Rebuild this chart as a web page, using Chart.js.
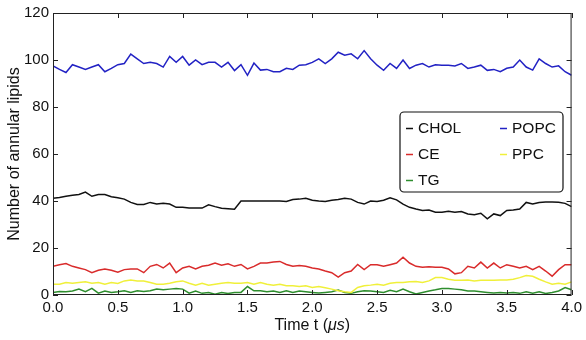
<!DOCTYPE html>
<html>
<head>
<meta charset="utf-8">
<script src="https://cdn.jsdelivr.net/npm/chart.js@4"></script>
<style>
  html, body { margin: 0; padding: 0; background: #fff; }
  #wrap { width: 586px; height: 340px; }
</style>
</head>
<body>
<div id="wrap"><canvas id="lipidChart" width="586" height="340"></canvas></div>
<script>
// time axis, microseconds
const times = [0.00, 0.05, 0.10, 0.15, 0.20, 0.25, 0.30, 0.35, 0.40, 0.45,
  0.50, 0.55, 0.60, 0.65, 0.70, 0.75, 0.80, 0.85, 0.90, 0.95,
  1.00, 1.05, 1.10, 1.15, 1.20, 1.25, 1.30, 1.35, 1.40, 1.45,
  1.50, 1.55, 1.60, 1.65, 1.70, 1.75, 1.80, 1.85, 1.90, 1.95,
  2.00, 2.05, 2.10, 2.15, 2.20, 2.25, 2.30, 2.35, 2.40, 2.45,
  2.50, 2.55, 2.60, 2.65, 2.70, 2.75, 2.80, 2.85, 2.90, 2.95,
  3.00, 3.05, 3.10, 3.15, 3.20, 3.25, 3.30, 3.35, 3.40, 3.45,
  3.50, 3.55, 3.60, 3.65, 3.70, 3.75, 3.80, 3.85, 3.90, 3.95, 4.00];

const popc = [97.5, 96, 94.7, 98, 97, 96, 97, 98, 95, 96.4,
  98, 98.5, 102.5, 100.5, 98.5, 99, 98.5, 97, 101.5, 99,
  101.5, 97.8, 100, 98, 99, 99, 97, 99, 95.5, 98,
  93.5, 98.7, 95.7, 96, 95, 95, 96.5, 96, 97.8, 98,
  99, 100.5, 98.5, 100.5, 103.3, 102, 102.6, 100.5, 104, 100.5,
  97.8, 95.6, 98.5, 96.4, 100, 96.4, 97.8, 98.5, 97, 98,
  97.8, 97.8, 97.5, 98.5, 96.4, 97, 97.8, 95.6, 96, 95,
  96.5, 97, 100, 97, 95.7, 100.5, 98.5, 97, 97.5, 95, 93.5];

const chol = [41.2, 41.5, 42, 42.4, 42.8, 43.8, 42, 42.8, 42.8, 41.8,
  41.4, 40.8, 39.4, 38.5, 38.5, 39.4, 38.7, 39, 38.7, 37.3,
  37.3, 37, 37, 37, 38.4, 37.6, 36.9, 36.7, 36.5, 40,
  40, 40, 40, 40, 40, 40, 39.8, 40.6, 40.8, 41.2,
  40.3, 40, 39.8, 40.3, 40.6, 41.2, 40.8, 39.4, 38.7, 40,
  39.8, 40.3, 41.4, 40.5, 38.7, 37.3, 36.6, 36, 36.2, 35.2,
  35.2, 35.6, 35.2, 35.5, 34.5, 34.2, 34.8, 32.4, 34.5, 33.8,
  36, 36.2, 36.6, 39.4, 38.7, 39.4, 39.6, 39.6, 39.5, 39, 37.6];

const ce = [12.2, 12.9, 13.4, 12.2, 11.5, 10.8, 9.5, 10.5, 11.1, 10.5,
  9.7, 10.8, 11.1, 11.1, 9.5, 12.2, 13, 11.5, 13.6, 9.5,
  11.5, 12.2, 11.1, 12.2, 12.7, 13.6, 12.7, 13.3, 12.2, 13,
  11.1, 12.2, 13.6, 13.6, 14, 14.3, 13, 12.2, 12.5, 12.2,
  11.5, 11.1, 10.2, 9.5, 7.6, 9.5, 10.2, 13, 10.8, 12.9,
  12.9, 12.2, 12.9, 13.6, 16.1, 13.6, 12.2, 11.8, 12, 11.8,
  11.8, 11.1, 9, 9.5, 12.2, 11.5, 14, 11.5, 13.6, 11.5,
  12.9, 12.2, 11.5, 12.2, 10.8, 12.2, 10.2, 8, 10.8, 12.9, 12.9];

const ppc = [4.6, 4.6, 5.3, 5, 5.3, 5.6, 5, 5.3, 4.6, 5.3,
  4.9, 6, 6.4, 6, 6, 5.3, 4.6, 4.6, 5, 5.6,
  6, 5, 4.2, 5, 4.2, 4.6, 5, 5.3, 5, 5,
  5.3, 4.6, 5.3, 4.6, 4.2, 4.6, 3.9, 3.9, 3.6, 3.9,
  3.2, 3.6, 3.1, 2.5, 1.8, 1.4, 1.1, 3.2, 3.9, 4.2,
  4.6, 4.2, 5, 5.3, 5.3, 5.6, 5.7, 5.3, 6, 7.4,
  7.4, 6.7, 6.3, 6.3, 6.4, 6, 6.3, 6.3, 6.3, 6.4,
  6.4, 6.7, 7.4, 8.3, 8, 6.7, 5.6, 4.6, 5, 4.6, 5.6];

const tg = [1.1, 1.5, 1.4, 1.7, 2.5, 1.4, 2.8, 0.8, 1.7, 1.1,
  1.4, 1.8, 1.1, 1.8, 1.5, 1.8, 2.5, 2.2, 2.5, 2.8,
  2.5, 0.8, 1.7, 0.7, 1.1, 0.3, 1.1, 0.6, 1.1, 1.1,
  3.6, 1.8, 1.8, 1.4, 1.7, 1.1, 1.8, 1.1, 1.7, 1.4,
  1.1, 0.8, 1.1, 1.4, 2.1, 1.1, 0.7, 1.4, 1.8, 1.7,
  1.4, 1.1, 2, 1.4, 2.5, 1.4, 0.4, 1.1, 1.7, 2.2,
  2.8, 2.8, 2.5, 2.2, 1.7, 1.7, 1.4, 1.1, 0.8, 1.1,
  0.8, 1.1, 0.7, 1.4, 0.8, 1.4, 0.6, 1.1, 1.7, 3.2, 2.2];

const xTicks = [0, 0.5, 1, 1.5, 2, 2.5, 3, 3.5, 4];
const yTicks = [0, 20, 40, 60, 80, 100, 120];

const FONT = '"Liberation Sans", Arial, sans-serif';

function series(label, values, color) {
  return {
    label: label,
    data: times.map((t, i) => ({ x: t, y: values[i] })),
    borderColor: color,
    backgroundColor: color,
    borderWidth: 1.5,
    pointRadius: 0,
    tension: 0,
    fill: false
  };
}

// frame, inward ticks, x title with italic unit, legend box
const decorPlugin = {
  id: 'decor',
  afterDraw(chart) {
    const ctx = chart.ctx;
    const a = chart.chartArea;
    const xs = chart.scales.x, ys = chart.scales.y;
    ctx.save();
    ctx.strokeStyle = '#222';
    ctx.lineWidth = 1;
    ctx.strokeRect(a.left + 0.5, a.top + 0.5, a.right - a.left - 1, a.bottom - a.top - 1);
    ctx.beginPath();
    xTicks.forEach(v => {
      const px = Math.round(xs.getPixelForValue(v)) + 0.5;
      ctx.moveTo(px, a.bottom); ctx.lineTo(px, a.bottom - 5);
      ctx.moveTo(px, a.top); ctx.lineTo(px, a.top + 5);
    });
    yTicks.forEach(v => {
      const py = Math.round(ys.getPixelForValue(v)) + 0.5;
      ctx.moveTo(a.left, py); ctx.lineTo(a.left + 5, py);
      ctx.moveTo(a.right, py); ctx.lineTo(a.right - 5, py);
    });
    ctx.stroke();

    // x axis title: "Time t (" + italic "μs" + ")"
    ctx.fillStyle = '#111';
    ctx.textBaseline = 'middle';
    const parts = [['Time t (', 'normal'], ['\u03bcs', 'italic'], [')', 'normal']];
    let total = 0;
    parts.forEach(p => { ctx.font = p[1] + ' 16px ' + FONT; total += ctx.measureText(p[0]).width; });
    let x = (a.left + a.right) / 2 - total / 2;
    parts.forEach(p => {
      ctx.font = p[1] + ' 16px ' + FONT;
      ctx.textAlign = 'left';
      ctx.fillText(p[0], x, 326);
      x += ctx.measureText(p[0]).width;
    });

    // legend
    const bx = 400, by = 112, bw = 163, bh = 80, r = 4;
    ctx.beginPath();
    ctx.moveTo(bx + r, by);
    ctx.arcTo(bx + bw, by, bx + bw, by + bh, r);
    ctx.arcTo(bx + bw, by + bh, bx, by + bh, r);
    ctx.arcTo(bx, by + bh, bx, by, r);
    ctx.arcTo(bx, by, bx + bw, by, r);
    ctx.closePath();
    ctx.fillStyle = '#fff';
    ctx.fill();
    ctx.strokeStyle = '#111';
    ctx.lineWidth = 1.2;
    ctx.stroke();
    const slots = [[406, 128], [500, 128], [406, 154], [500, 154], [406, 180]];
    ctx.font = '15.5px ' + FONT;
    chart.data.datasets.forEach((ds, k) => {
      const [sx, sy] = slots[k];
      ctx.strokeStyle = ds.borderColor;
      ctx.lineWidth = 1.5;
      ctx.beginPath();
      ctx.moveTo(sx, sy + 0.5); ctx.lineTo(sx + 7, sy + 0.5);
      ctx.stroke();
      ctx.fillStyle = '#111';
      ctx.textAlign = 'left';
      ctx.fillText(ds.label, sx + 12, sy + 1);
    });
    ctx.restore();
  }
};

const ctx = document.getElementById('lipidChart').getContext('2d');
new Chart(ctx, {
  type: 'line',
  data: {
    datasets: [
      series('CHOL', chol, '#111111'),
      series('POPC', popc, '#2222c4'),
      series('CE', ce, '#d92b2b'),
      series('PPC', ppc, '#f0f03a'),
      series('TG', tg, '#2e8e2e')
    ]
  },
  options: {
    responsive: false,
    animation: false,
    layout: { padding: { top: 11, right: 12, left: 0, bottom: 0 } },
    plugins: { legend: { display: false }, tooltip: { enabled: false } },
    scales: {
      x: {
        type: 'linear',
        min: 0, max: 4,
        afterBuildTicks: s => { s.ticks = xTicks.map(v => ({ value: v })); },
        afterFit: s => { s.height = 45; },
        grid: { display: false, drawTicks: false },
        border: { display: false },
        ticks: {
          padding: 4,
          color: '#111',
          font: { family: FONT, size: 15 },
          maxRotation: 0,
          callback: v => v.toFixed(1)
        }
      },
      y: {
        min: 0, max: 120,
        afterBuildTicks: s => { s.ticks = yTicks.map(v => ({ value: v })); },
        afterFit: s => { s.width = 53; },
        grid: { display: false, drawTicks: false },
        border: { display: false },
        title: {
          display: true,
          text: 'Number of annular lipids',
          color: '#111',
          font: { family: FONT, size: 16 },
          padding: { top: 5, bottom: 0 }
        },
        ticks: {
          padding: 4,
          color: '#111',
          font: { family: FONT, size: 15 }
        }
      }
    }
  },
  plugins: [decorPlugin]
});
</script>
</body>
</html>
